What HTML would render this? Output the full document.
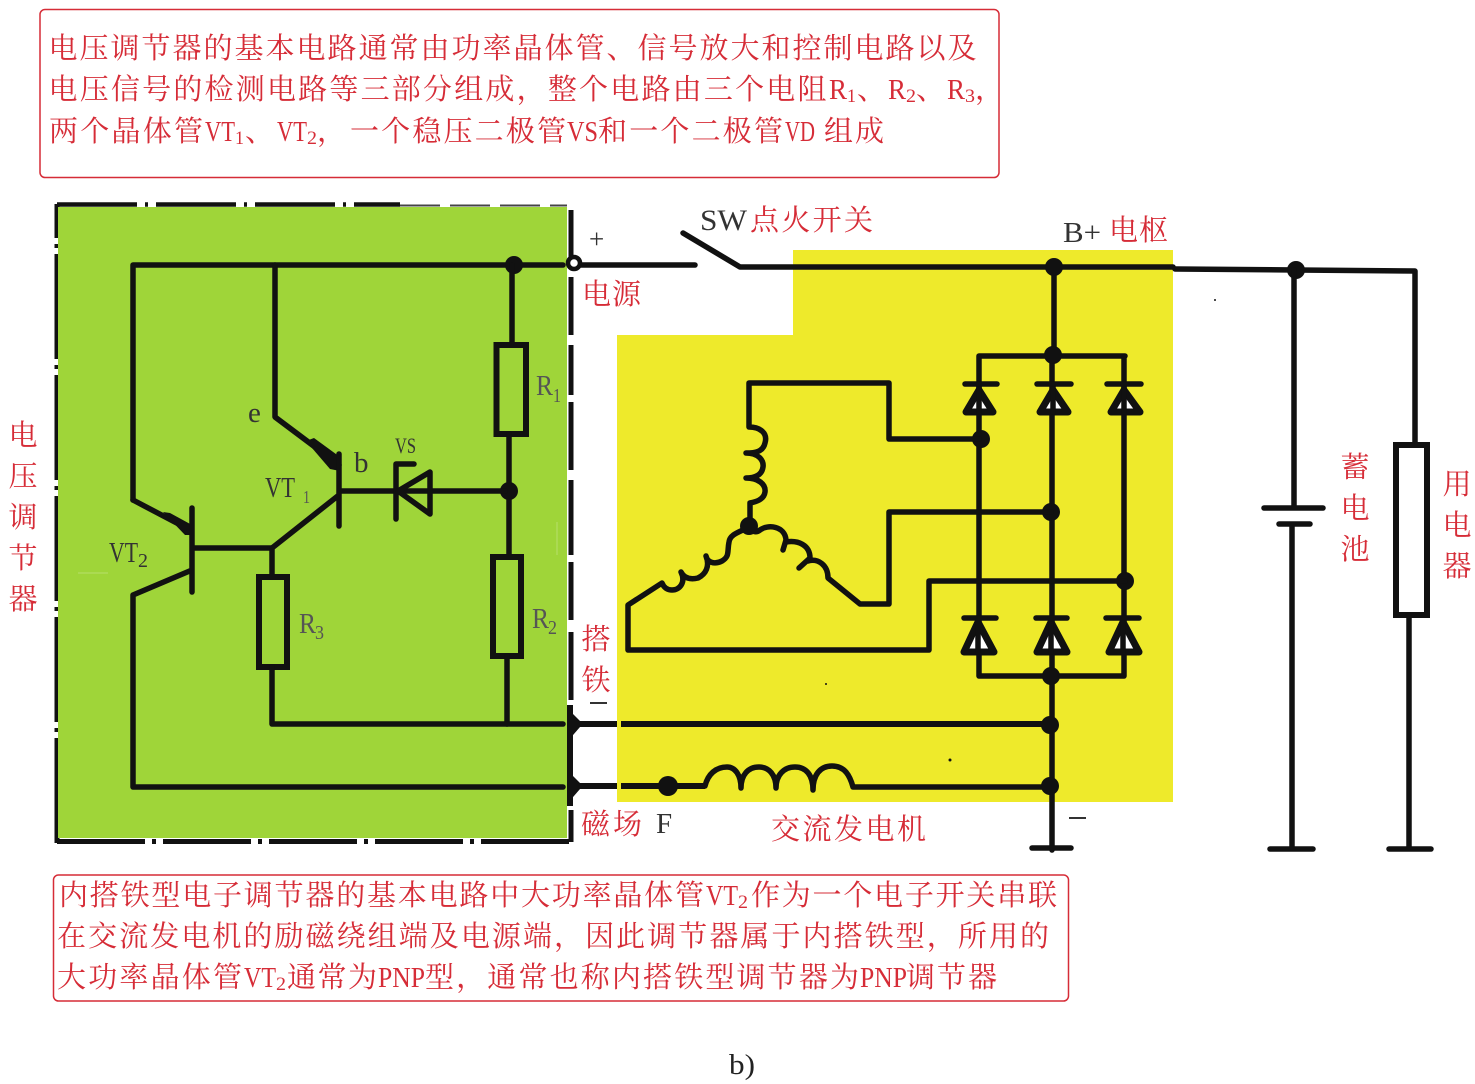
<!DOCTYPE html>
<html>
<head>
<meta charset="utf-8">
<style>
html,body{margin:0;padding:0;background:#fff;width:1475px;height:1084px;overflow:hidden}
svg{display:block}
text{font-family:"Liberation Serif","Noto Serif CJK SC",serif}
.r{fill:#d62c37;font-size:29px}
.c{fill:#d62c37;font-size:29px;text-anchor:middle}
.k{fill:#333;font-size:29px}
.s{fill:#d62c37;font-size:19px}
.w{fill:none;stroke:#111;stroke-width:5.500;stroke-linejoin:round;stroke-linecap:round}
.b{fill:none;stroke:#111;stroke-width:6;stroke-linecap:butt}
.n{fill:#111}
.d{fill:#fff;stroke:#111;stroke-width:7;stroke-linejoin:round}
</style>
</head>
<body>
<svg width="1475" height="1084" viewBox="0 0 1475 1084" xmlns="http://www.w3.org/2000/svg">
<!-- top box -->
<rect x="40" y="9.500" width="959" height="168" rx="5" fill="none" stroke="#d62c37" stroke-width="1.500"/>
<text class="r" x="48.500" y="58" textLength="928">电压调节器的基本电路通常由功率晶体管、信号放大和控制电路以及</text>
<text class="r" x="48.500" y="99" textLength="778">电压信号的检测电路等三部分组成，整个电路由三个电阻</text>
<text class="r" x="829" y="99" textLength="18" lengthAdjust="spacingAndGlyphs">R</text><text class="s" x="847" y="102" textLength="9" lengthAdjust="spacingAndGlyphs">1</text>
<text class="r" x="857" y="99">、</text>
<text class="r" x="888" y="99" textLength="18" lengthAdjust="spacingAndGlyphs">R</text><text class="s" x="906" y="102" textLength="10" lengthAdjust="spacingAndGlyphs">2</text>
<text class="r" x="916" y="99">、</text>
<text class="r" x="947" y="99" textLength="18" lengthAdjust="spacingAndGlyphs">R</text><text class="s" x="965" y="102" textLength="10" lengthAdjust="spacingAndGlyphs">3</text>
<text class="r" x="975" y="99">，</text>
<text class="r" x="49" y="141" textLength="154">两个晶体管</text>
<text class="r" x="205" y="141" textLength="30" lengthAdjust="spacingAndGlyphs">VT</text><text class="s" x="235" y="144" textLength="9" lengthAdjust="spacingAndGlyphs">1</text>
<text class="r" x="245" y="141">、</text>
<text class="r" x="277" y="141" textLength="30" lengthAdjust="spacingAndGlyphs">VT</text><text class="s" x="307" y="144" textLength="10" lengthAdjust="spacingAndGlyphs">2</text>
<text class="r" x="317" y="141">，</text>
<text class="r" x="350" y="141" textLength="216">一个稳压二极管</text>
<text class="r" x="567" y="141" textLength="31" lengthAdjust="spacingAndGlyphs">VS</text>
<text class="r" x="598" y="141" textLength="185">和一个二极管</text>
<text class="r" x="785" y="141" textLength="30" lengthAdjust="spacingAndGlyphs">VD</text>
<text class="r" x="824" y="141" textLength="60">组成</text>

<!-- dashed box -->
<path d="M57,843V204" fill="none" stroke="#111" stroke-width="5" stroke-dasharray="105 6 4 6"/>
<path d="M57,204.500H400" fill="none" stroke="#111" stroke-width="4.500" stroke-dasharray="80 8 3 8"/>
<path d="M400,205.500H567" fill="none" stroke="#444" stroke-width="2" stroke-dasharray="40 10"/>
<path d="M57,841.500H569" fill="none" stroke="#111" stroke-width="5" stroke-dasharray="88 7 4 7"/>
<path d="M571,210V258M571,277V335M571,345V395M571,402V470M571,480V555M571,562V620M571,632V700M571,810V842" fill="none" stroke="#111" stroke-width="5"/>
<!-- backgrounds -->
<rect x="58" y="207" width="509" height="631" fill="#9fd539"/>
<polygon points="793,250 1173,250 1173,802 617,802 617,335 793,335" fill="#eeea2b"/>
<path d="M557,522V555" stroke="#b7e06a" stroke-width="1"/>
<path d="M78,573H108" stroke="#b7e06a" stroke-width="1"/>

<!-- regulator wiring -->
<path class="w" d="M133,500V265H563"/>
<path class="w" d="M580,265H695"/>
<path class="w" d="M683,233L740,267H1173"/>
<path class="w" d="M1175,269L1296,270L1415,271V445"/>
<circle cx="574" cy="263" r="6" fill="#fff" stroke="#111" stroke-width="4.500"/>
<circle class="n" cx="514" cy="265" r="9"/>
<path class="w" d="M512,265V345"/>
<rect x="496.500" y="345" width="29.500" height="89" fill="none" stroke="#111" stroke-width="6"/>
<path class="w" d="M509,434V557"/>
<circle class="n" cx="509" cy="491" r="9"/>
<rect x="493" y="557" width="28" height="99" fill="none" stroke="#111" stroke-width="6"/>
<path class="w" d="M507,656V724"/>
<path class="w" d="M133,500L190,530"/>
<path d="M163,512L170,513L192,525V535L185,535Z" fill="#111"/>
<path class="w" d="M192,508V592M192,548H272M192,570L133,595V787H563"/>
<path class="w" d="M275,265V417L339,465"/>
<path d="M306,441L314,438L340,457V471L330,469Z" fill="#111"/>
<path class="w" d="M339,454V526M339,491H505M339,495L272,548V577"/>
<rect x="259" y="577" width="28" height="90" fill="none" stroke="#111" stroke-width="6"/>
<path class="w" d="M272,667V724H563"/>
<!-- zener -->
<path class="w" d="M414,464H396V519" stroke-width="6"/>
<path class="w" d="M398,491L430,472V514Z" stroke-width="6"/>
<!-- terminals -->
<polygon points="567,708 567,742 580,727 617,727 617,721 580,721" fill="#111"/>
<polygon points="567,770 567,804 580,789 617,789 617,783 580,783" fill="#111"/>
<path d="M570,705V806" stroke="#111" stroke-width="6"/>
<path class="b" d="M621,724H1050"/>
<path class="b" d="M621,786H705"/>
<circle class="n" cx="668" cy="786" r="10"/>
<path class="w" stroke-width="6" d="M705,786C708,774 716,767 727,767C735,767 741,775 741,788C741,775 748,767 759,767C769,767 776,775 776,788C776,775 784,767 795,767C806,767 813,775 813,790C813,775 820,766 832,766C845,766 850,776 853,787H1050"/>

<!-- rectifier -->
<path class="w" d="M1054,267V356"/>
<path class="w" stroke-width="6" d="M979,356H1125M979,356V676H1124V356M1052,356V850"/>
<path class="w" d="M1032,848H1071"/>
<circle class="n" cx="1053" cy="355" r="9"/>
<circle class="n" cx="981" cy="439" r="9"/>
<circle class="n" cx="1051" cy="512" r="9"/>
<circle class="n" cx="1125" cy="581" r="9"/>
<circle class="n" cx="1051" cy="676" r="9"/>
<circle class="n" cx="1050" cy="725" r="9"/>
<circle class="n" cx="1050" cy="786" r="9"/>
<!-- diodes -->
<g class="d">
<path class="d" d="M979,390L966,412H993Z"/>
<path class="d" d="M1053,390L1040,412H1068Z"/>
<path class="d" d="M1124,390L1111,412H1140Z"/>
<path class="d" d="M978,622L964,652H994Z"/>
<path class="d" d="M1051,622L1037,652H1067Z"/>
<path class="d" d="M1123,622L1109,652H1139Z"/>
</g>
<path class="w" d="M979,384V412M1053,384V412M1124,384V412M978,618V652M1051,618V652M1123,618V652"/>
<path class="w" stroke-width="6" d="M965,384H997M1037,384H1071M1107,384H1141M964,618H996M1036,618H1067M1106,618H1139"/>
<!-- stator -->
<path class="w" d="M979,439H889V383H749V427C760,427 768,433 765,443C763,452 755,453 746,453C758,453 764,460 763,467C762,475 755,478 746,478C758,478 766,484 765,492C764,500 755,502 750,503V525"/>
<path class="w" d="M749,527C752,532 756,533 760,530C768,524 785,526 786,540L783,550M786,542C798,540 810,545 810,558L799,568M808,561C818,558 828,565 828,578L860,604H889V512H1051"/>
<path class="w" d="M749,527C740,532 730,534 729,542C727,552 730,556 722,561C714,565 707,562 706,556C710,566 706,574 698,578C690,580 684,578 681,572C686,582 680,590 672,590C668,590 664,588 662,583L628,605V650H929V581H1125"/>
<circle class="n" cx="749" cy="526" r="9"/>

<!-- battery + load -->
<circle class="n" cx="1296" cy="270" r="9"/>
<circle class="n" cx="1054" cy="267" r="9"/>
<path class="w" d="M1294,270V507M1264,508H1323M1279,524H1310M1292,524V849M1270,849H1313"/>
<rect x="1396" y="445" width="31" height="170" fill="none" stroke="#111" stroke-width="6"/>
<path class="w" d="M1409,615V849M1389,849H1431"/>
<circle class="n" cx="1215" cy="300" r="1"/>
<circle class="n" cx="950" cy="760" r="1.500"/>
<circle class="n" cx="826" cy="684" r="1"/>

<!-- circuit labels -->
<text class="k" x="248" y="422" font-size="28">e</text>
<text class="k" x="354" y="472" font-size="28">b</text>
<text class="k" style="font-size:22px" x="395" y="453" textLength="21" lengthAdjust="spacingAndGlyphs">VS</text>
<text class="k" style="font-size:29px" x="265" y="497" textLength="30" lengthAdjust="spacingAndGlyphs">VT</text>
<text class="k" style="font-size:18px;fill:#555" x="303" y="503" textLength="7" lengthAdjust="spacingAndGlyphs">1</text>
<text class="k" style="font-size:29px" x="109" y="562" textLength="29" lengthAdjust="spacingAndGlyphs">VT</text>
<text class="k" style="font-size:20px" x="138" y="567">2</text>
<text class="k" style="font-size:29px;fill:#555" x="536" y="395" textLength="17" lengthAdjust="spacingAndGlyphs">R</text>
<text class="k" style="font-size:20px;fill:#555" x="553" y="402" textLength="8" lengthAdjust="spacingAndGlyphs">1</text>
<text class="k" style="font-size:29px;fill:#555" x="532" y="628" textLength="17" lengthAdjust="spacingAndGlyphs">R</text>
<text class="k" style="font-size:20px;fill:#555" x="548" y="634" textLength="9" lengthAdjust="spacingAndGlyphs">2</text>
<text class="k" style="font-size:29px;fill:#555" x="299" y="633" textLength="17" lengthAdjust="spacingAndGlyphs">R</text>
<text class="k" style="font-size:20px;fill:#555" x="315" y="639" textLength="9" lengthAdjust="spacingAndGlyphs">3</text>
<text class="k" x="589" y="248" style="font-size:27px">+</text>
<text class="k" x="700" y="230" style="font-size:30px" textLength="47" lengthAdjust="spacingAndGlyphs">SW</text>
<text class="r" x="750" y="230" textLength="123">点火开关</text>
<text class="k" x="1063" y="242" textLength="38" lengthAdjust="spacingAndGlyphs">B+</text>
<text class="r" x="1109" y="240" textLength="59">电枢</text>
<text class="r" x="582" y="304" textLength="59">电源</text>
<text class="c" x="596" y="649">搭</text>
<text class="c" x="596" y="690">铁</text>
<path d="M590,703H607" stroke="#333" stroke-width="2"/>
<text class="r" x="581" y="834" textLength="61">磁场</text>
<text class="k" x="656" y="833">F</text>
<text class="r" x="771" y="839" textLength="155">交流发电机</text>
<path d="M1069,818H1086" stroke="#333" stroke-width="2"/>
<text class="c" x="23" y="445">电</text>
<text class="c" x="23" y="486">压</text>
<text class="c" x="23" y="527">调</text>
<text class="c" x="23" y="568">节</text>
<text class="c" x="23" y="609">器</text>
<text class="c" x="1355" y="477">蓄</text>
<text class="c" x="1355" y="518">电</text>
<text class="c" x="1355" y="559">池</text>
<text class="c" x="1457" y="494">用</text>
<text class="c" x="1457" y="535">电</text>
<text class="c" x="1457" y="576">器</text>

<!-- bottom box -->
<rect x="53.500" y="875" width="1015" height="126" rx="5" fill="none" stroke="#d62c37" stroke-width="1.500"/>
<text class="r" x="59" y="905" textLength="645">内搭铁型电子调节器的基本电路中大功率晶体管</text>
<text class="r" x="706" y="905" textLength="32" lengthAdjust="spacingAndGlyphs">VT</text><text class="s" x="738" y="908" textLength="10" lengthAdjust="spacingAndGlyphs">2</text>
<text class="r" x="751" y="905" textLength="306">作为一个电子开关串联</text>
<text class="r" x="57" y="946" textLength="992">在交流发电机的励磁绕组端及电源端，因此调节器属于内搭铁型，所用的</text>
<text class="r" x="57" y="987" textLength="185">大功率晶体管</text>
<text class="r" x="244" y="987" textLength="32" lengthAdjust="spacingAndGlyphs">VT</text><text class="s" x="276" y="990" textLength="10" lengthAdjust="spacingAndGlyphs">2</text>
<text class="r" x="287" y="987" textLength="90">通常为</text>
<text class="r" x="378" y="987" textLength="47" lengthAdjust="spacingAndGlyphs">PNP</text>
<text class="r" x="425" y="987" textLength="434">型，通常也称内搭铁型调节器为</text>
<text class="r" x="860" y="987" textLength="47" lengthAdjust="spacingAndGlyphs">PNP</text>
<text class="r" x="906" y="987" textLength="91">调节器</text>

<text x="729" y="1074" fill="#222" style="font-size:29px" textLength="26" lengthAdjust="spacingAndGlyphs">b)</text>
</svg>
</body>
</html>
